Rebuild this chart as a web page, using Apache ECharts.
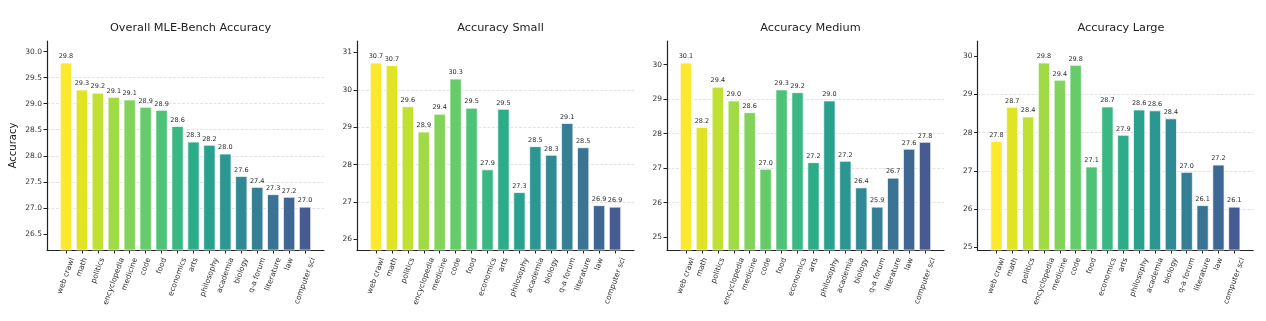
<!DOCTYPE html>
<html>
<head>
<meta charset="utf-8">
<script src="https://cdn.jsdelivr.net/npm/echarts@6/dist/echarts.min.js"></script>
<style>
  html, body { margin: 0; padding: 0; background: #fff; }
  #chart { width: 1266px; height: 321px; }
</style>
</head>
<body>
<div id="chart"></div>
<script>
// Data categories (shared x axis of every panel)
const categories = ['web crawl', 'math', 'politics', 'encyclopedia', 'medicine', 'code', 'food',
  'economics', 'arts', 'philosophy', 'academia', 'biology', 'q-a forum', 'literature', 'law', 'computer sci'];

// Accuracy per category
const overall = [29.79, 29.27, 29.21, 29.13, 29.08, 28.94, 28.88, 28.57, 28.27, 28.21, 28.04, 27.61, 27.40, 27.26, 27.21, 27.02];
const small   = [30.73, 30.66, 29.56, 28.88, 29.36, 30.30, 29.52, 27.87, 29.49, 27.26, 28.49, 28.26, 29.11, 28.46, 26.91, 26.87];
const medium  = [30.06, 28.19, 29.36, 28.96, 28.62, 26.98, 29.28, 29.20, 27.17, 28.96, 27.21, 26.44, 25.88, 26.72, 27.56, 27.76];
const large   = [27.78, 28.67, 28.42, 29.83, 29.38, 29.77, 27.11, 28.68, 27.94, 28.60, 28.58, 28.37, 26.97, 26.10, 27.16, 26.06];

// Y tick labels per panel
const overallTicks = [26.5, 27.0, 27.5, 28.0, 28.5, 29.0, 29.5, 30.0];
const smallTicks   = [26, 27, 28, 29, 30, 31];
const mediumTicks  = [25, 26, 27, 28, 29, 30];
const largeTicks   = [25, 26, 27, 28, 29, 30];

const titles = ['Overall MLE-Bench Accuracy', 'Accuracy Small', 'Accuracy Medium', 'Accuracy Large'];

// viridis, from 1.0 down to 0.25 in steps of 0.05
const palette = ['#fde725', '#dfe318', '#bddf26', '#9bd93c', '#7ad151', '#5ec962', '#44bf70', '#2fb47c',
  '#22a884', '#1e9c89', '#21918c', '#25848e', '#2a788e', '#2f6c8e', '#355f8d', '#3b528b'];

const FONT = 'DejaVu Sans';
const panels = [
  { title: titles[0], values: overall, ticks: overallTicks, digits: 1, split: 8, name: 'Accuracy' },
  { title: titles[1], values: small,   ticks: smallTicks,   digits: 0, split: 5, name: '' },
  { title: titles[2], values: medium,  ticks: mediumTicks,  digits: 0, split: 5, name: '' },
  { title: titles[3], values: large,   ticks: largeTicks,   digits: 0, split: 5, name: '' }
];

const plotLeft = [47, 357, 667, 977.5];
const plotWidth = 277;
const plotTop = 41;
const plotBottom = 71;

// Rotated category labels: centre the label's bounding box under its tick
const LABEL_SIZE = 7.5, LINE_H = 9, LABEL_MARGIN = 2, TOP_GAP = 6.5;
const rad = 70 * Math.PI / 180;
const ctx = document.createElement('canvas').getContext('2d');
ctx.font = LABEL_SIZE + 'px "' + FONT + '"';
const rich = {};
categories.forEach((c, i) => {
  const L = ctx.measureText(c).width;
  const D = TOP_GAP - LABEL_MARGIN + (L * Math.sin(rad) + LINE_H * Math.cos(rad)) / 2;
  rich['c' + i] = {
    fontSize: LABEL_SIZE, fontFamily: FONT, color: '#333', lineHeight: LINE_H,
    padding: [2 * D * Math.cos(rad), 2 * D * Math.sin(rad), 0, 0]
  };
});
const catIdx = categories.map((_, i) => i);
// blank end slots so the axis keeps every category label
const labelSlots = [-1].concat(catIdx, [categories.length]);

function yRange(vals) {
  const lo = Math.min(...vals), hi = Math.max(...vals), span = hi - lo;
  return [lo - 0.3 * span, hi + 0.15 * span];
}

const axisColor = '#222';
const option = {
  animation: false,
  backgroundColor: '#fff',
  textStyle: { fontFamily: FONT },
  title: panels.map((p, k) => ({
    text: p.title, left: plotLeft[k] + plotWidth / 2, top: 18, textAlign: 'center',
    textStyle: { fontSize: 11.3, fontWeight: 'normal', color: '#222', fontFamily: FONT }
  })),
  grid: panels.map((p, k) => ({
    left: plotLeft[k], width: plotWidth, top: plotTop, bottom: plotBottom, containLabel: false
  })),
  xAxis: panels.map((p, k) => ({
    type: 'value', gridIndex: k, min: -1.19, max: 16.19,
    axisLine: { show: true, onZero: false, lineStyle: { color: axisColor, width: 1.2 } },
    axisTick: { show: true, length: 3.5, customValues: catIdx, lineStyle: { color: axisColor, width: 1 } },
    axisLabel: {
      customValues: labelSlots, rotate: 70, align: 'center', verticalAlign: 'middle', margin: LABEL_MARGIN,
      showMinLabel: false, showMaxLabel: false, hideOverlap: false,
      formatter: v => (categories[v] === undefined ? '' : '{c' + v + '|' + categories[v] + '}'), rich: rich
    },
    splitLine: { show: false }
  })),
  yAxis: panels.map((p, k) => {
    const [lo, hi] = yRange(p.values);
    return {
      type: 'value', gridIndex: k, min: lo, max: hi, splitNumber: p.split,
      name: p.name, nameLocation: 'middle', nameGap: 29,
      nameTextStyle: { fontSize: 10, color: '#222', fontFamily: FONT },
      axisLine: { show: true, onZero: false, lineStyle: { color: axisColor, width: 1.2 } },
      axisTick: { show: true, length: 3.5, customValues: p.ticks, lineStyle: { color: axisColor, width: 1 } },
      axisLabel: {
        customValues: p.ticks, formatter: v => Number(v).toFixed(p.digits),
        showMinLabel: true, showMaxLabel: true,
        fontSize: 7.5, color: '#333', margin: 5, fontFamily: FONT
      },
      splitLine: {
        show: true, showMinLine: false, showMaxLine: false,
        lineStyle: { color: '#dcdcdc', type: [3, 1.5], width: 0.8 }
      }
    };
  }),
  series: panels.map((p, k) => ({
    type: 'bar', xAxisIndex: k, yAxisIndex: k, barWidth: '76%',
    data: p.values.map((v, i) => ({ value: [i, v], itemStyle: { color: palette[i] } })),
    itemStyle: { borderColor: 'rgba(255,255,255,0.9)', borderWidth: 0.8, opacity: 0.95 },
    label: {
      show: true, position: 'top', distance: 2.5, fontSize: 6.5, color: '#222', fontFamily: FONT,
      formatter: d => d.value[1].toFixed(1)
    }
  }))
};

const chart = echarts.init(document.getElementById('chart'), null, { renderer: 'canvas' });
chart.setOption(option);
</script>
</body>
</html>
